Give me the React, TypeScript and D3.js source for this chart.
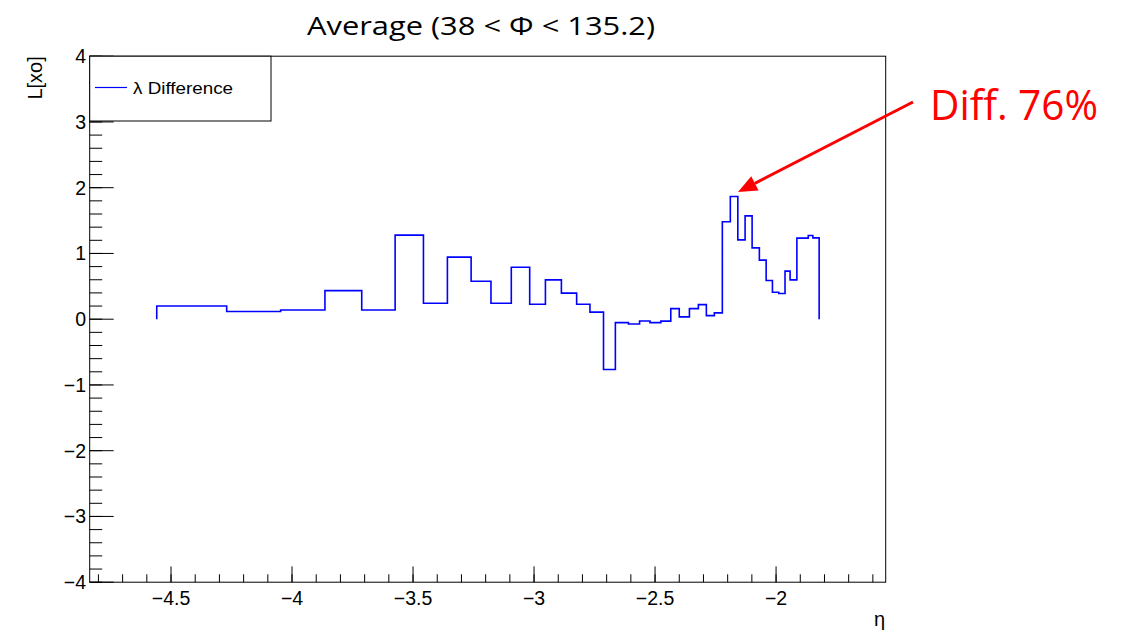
import React from "react";
import * as d3 from "d3";

// ---- data ----
const binEdges = [
  -4.559, -4.27, -4.047, -3.864, -3.712, -3.574, -3.457, -3.358, -3.26, -3.178,
  -3.094, -3.018, -2.953, -2.887, -2.824, -2.769, -2.713, -2.664, -2.61, -2.564,
  -2.521, -2.476, -2.435, -2.4, -2.358, -2.321, -2.288, -2.255, -2.222, -2.189,
  -2.158, -2.128, -2.099, -2.069, -2.041, -2.015, -1.989, -1.963, -1.942, -1.914,
  -1.867, -1.848, -1.822,
];
const binValues = [
  0.2, 0.116, 0.14, 0.435, 0.14, 1.278, 0.243, 0.944, 0.578, 0.243,
  0.79, 0.228, 0.598, 0.396, 0.228, 0.107, -0.765, -0.052, -0.072, -0.028,
  -0.052, -0.03, 0.161, 0.035, 0.161, 0.222, 0.055, 0.096, 1.481, 1.866,
  1.207, 1.572, 1.085, 0.898, 0.588, 0.411, 0.39, 0.731, 0.598, 1.233,
  1.273, 1.237,
];
const xDomain = [-4.836, -1.547];
const yDomain = [-4, 4];
const xMajorTicks = [-4.5, -4, -3.5, -3, -2.5, -2];
const xTickLabels = ["\u22124.5", "\u22124", "\u22123.5", "\u22123", "\u22122.5", "\u22122"];
const yMajorTicks = [-4, -3, -2, -1, 0, 1, 2, 3, 4];
const yTickLabels = ["\u22124", "\u22123", "\u22122", "\u22121", "0", "1", "2", "3", "4"];
const titleText = "Average (38 < \u03A6 < 135.2)";
const yTitle = "L[xo]";
const xTitle = "\u03B7";
const legendLabel = "\u03BB Difference";
const annotationText = "Diff. 76%";

// ---- layout ----
const W = 1122;
const H = 632;
const frame = { left: 89.7, right: 885.7, top: 56.2, bottom: 582.2 };
const font = "'Liberation Sans', Arial, Helvetica, sans-serif";
const pptFont = "'Open Sans', 'Noto Sans', sans-serif";

export default function App() {
  const x = d3.scaleLinear().domain(xDomain).range([frame.left, frame.right]);
  const y = d3.scaleLinear().domain(yDomain).range([frame.bottom, frame.top]);

  const pts: [number, number][] = [];
  pts.push([binEdges[0], 0]);
  binValues.forEach((v, i) => {
    pts.push([binEdges[i], v]);
    pts.push([binEdges[i + 1], v]);
  });
  pts.push([binEdges[binEdges.length - 1], 0]);
  const line = d3
    .line<[number, number]>()
    .x((d) => x(d[0]))
    .y((d) => y(d[1]));

  const xMinor = d3.range(-48, -15).map((k) => k / 10).filter((v) => v >= xDomain[0] && v <= xDomain[1]);
  const yMinor = d3.range(-20, 21).map((k) => k / 5);

  const xMajLen = 15.8;
  const xMinLen = 7.9;
  const yMajLen = 24;
  const yMinLen = 12.5;

  // annotation arrow
  const a0: [number, number] = [913, 102];
  const tip: [number, number] = [738, 192];
  const dx = tip[0] - a0[0];
  const dy = tip[1] - a0[1];
  const len = Math.hypot(dx, dy);
  const ux = dx / len;
  const uy = dy / len;
  const headL = 19;
  const headW = 8;
  const bx = tip[0] - ux * headL;
  const by = tip[1] - uy * headL;
  const head = `${tip[0]},${tip[1]} ${bx - uy * headW},${by + ux * headW} ${bx + uy * headW},${by - ux * headW}`;

  return (
    <svg
      width={W}
      height={H}
      style={{ position: "absolute", left: 0, top: 0, background: "#fff" }}
    >
      <rect x={0} y={0} width={W} height={H} fill="#fff" />
      {/* title */}
      <text
        x={481}
        y={35}
        textAnchor="middle"
        fontFamily={pptFont}
        fontSize={26}
        fill="#000"
        textLength={348}
        lengthAdjust="spacingAndGlyphs"
      >
        {titleText}
      </text>

      {/* histogram */}
      <path d={line(pts) || ""} fill="none" stroke="#0000ff" strokeWidth={1.6} />

      {/* frame */}
      <rect
        x={frame.left}
        y={frame.top}
        width={frame.right - frame.left}
        height={frame.bottom - frame.top}
        fill="none"
        stroke="#000"
        strokeWidth={1}
      />

      {/* x ticks */}
      {xMinor.map((v, i) => (
        <line key={"xm" + i} x1={x(v)} x2={x(v)} y1={frame.bottom} y2={frame.bottom - xMinLen} stroke="#000" strokeWidth={1} />
      ))}
      {xMajorTicks.map((v, i) => (
        <g key={"xM" + i}>
          <line x1={x(v)} x2={x(v)} y1={frame.bottom} y2={frame.bottom - xMajLen} stroke="#000" strokeWidth={1} />
          <text x={x(v)} y={605} textAnchor="middle" fontFamily={font} fontSize={19.5} fill="#000">
            {xTickLabels[i]}
          </text>
        </g>
      ))}

      {/* y ticks */}
      {yMinor.map((v, i) => (
        <line key={"ym" + i} x1={frame.left} x2={frame.left + yMinLen} y1={y(v)} y2={y(v)} stroke="#000" strokeWidth={1} />
      ))}
      {yMajorTicks.map((v, i) => (
        <g key={"yM" + i}>
          <line x1={frame.left} x2={frame.left + yMajLen} y1={y(v)} y2={y(v)} stroke="#000" strokeWidth={1} />
          <text x={86} y={y(v)} dy="0.36em" textAnchor="end" fontFamily={font} fontSize={19.5} fill="#000">
            {yTickLabels[i]}
          </text>
        </g>
      ))}

      {/* axis titles */}
      <text
        transform={`translate(42,${frame.top}) rotate(-90)`}
        textAnchor="end"
        fontFamily={font}
        fontSize={20}
        fill="#000"
      >
        {yTitle}
      </text>
      <text x={885} y={626} textAnchor="end" fontFamily={font} fontSize={20} fill="#000">
        {xTitle}
      </text>

      {/* legend */}
      <rect x={frame.left} y={frame.top} width={271 - frame.left} height={121 - frame.top} fill="#fff" stroke="#000" strokeWidth={1} />
      <line x1={95} x2={127} y1={87.5} y2={87.5} stroke="#0000ff" strokeWidth={1.2} />
      <text x={133} y={93.5} fontFamily={font} fontSize={17} fill="#000" textLength={100} lengthAdjust="spacingAndGlyphs">
        {legendLabel}
      </text>

      {/* annotation */}
      <line x1={a0[0]} y1={a0[1]} x2={bx} y2={by} stroke="#ff0000" strokeWidth={3} />
      <polygon points={head} fill="#ff0000" />
      <text
        x={930}
        y={120}
        fontFamily={pptFont}
        fontSize={42}
        fill="#ff0000"
        textLength={168}
        lengthAdjust="spacingAndGlyphs"
      >
        {annotationText}
      </text>
    </svg>
  );
}
